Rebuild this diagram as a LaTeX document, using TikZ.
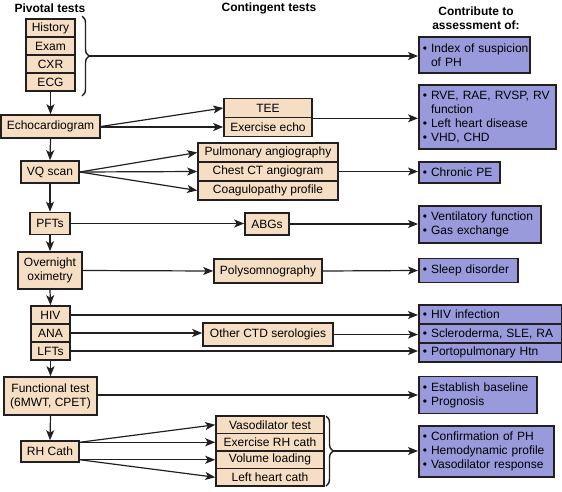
\documentclass[tikz,border=0pt]{standalone}
\usepackage{fontspec}
\setmainfont{Liberation Sans}
\usetikzlibrary{arrows.meta,decorations.pathreplacing,calc}
\definecolor{tanfill}{RGB}{246,222,196}
\definecolor{bluefill}{RGB}{152,154,220}
\definecolor{ink}{RGB}{35,31,32}
\newcommand{\bl}[1]{\mbox{•\ #1}}
\newcommand{\bc}[1]{\mbox{\hphantom{•\ }#1}}
\begin{document}
\begin{tikzpicture}[x=1pt,y=-1pt,font=\fontsize{12}{14}\selectfont,
  tbox/.style={draw=ink,fill=tanfill,line width=1.6pt,inner sep=0pt,align=center},
  bbox/.style={draw=ink,fill=bluefill,line width=1.6pt,inner xsep=4pt,inner ysep=0pt,align=left,anchor=west},
  hdr/.style={font=\bfseries\fontsize{12}{14}\selectfont,align=center},
  arr/.style={draw=ink,line width=1.2pt,-{Stealth[length=10pt,width=8pt,inset=2.5pt]}},
  bracestyle/.style={draw=ink,line width=1.4pt,decorate,decoration={brace,amplitude=7pt}}]
\useasboundingbox (0,0) rectangle (562,491);
% headers
\node[hdr] (h1) at (50,8) {Pivotal tests};
\node[hdr] (h2) at (269,8) {Contingent tests};
\node[hdr] (h3) at (476,18) {Contribute to\\assessment of:};
% pivotal tests
\node[tbox,minimum width=49pt,minimum height=18pt] (hist) at (50.5,28) {History};
\node[tbox,minimum width=49pt,minimum height=18pt] (exam) at (50.5,46) {Exam};
\node[tbox,minimum width=49pt,minimum height=18pt] (cxr) at (50.5,64) {CXR};
\node[tbox,minimum width=49pt,minimum height=18pt] (ecg) at (50.5,82) {ECG};
\node[tbox,minimum width=99pt,minimum height=23pt] (echo) at (50.5,126.5) {Echocardiogram};
\node[tbox,minimum width=58pt,minimum height=22pt] (vq) at (50,172) {VQ scan};
\node[tbox,minimum width=40pt,minimum height=22pt] (pft) at (50,223.5) {PFTs};
\node[tbox,minimum width=64pt,minimum height=37pt] (oxi) at (50,270.5) {Overnight\\oximetry};
\node[tbox,minimum width=39pt,minimum height=18pt] (hiv) at (50.5,315) {HIV};
\node[tbox,minimum width=39pt,minimum height=18pt] (ana) at (50.5,333) {ANA};
\node[tbox,minimum width=39pt,minimum height=18pt] (lft) at (50.5,351) {LFTs};
\node[tbox,minimum width=93pt,minimum height=38pt] (func) at (50.5,396) {Functional test\\(6MWT, CPET)};
\node[tbox,minimum width=58pt,minimum height=21pt] (rh) at (50,451.5) {RH Cath};
% contingent tests
\node[tbox,minimum width=88pt,minimum height=19pt] (tee) at (268,108) {TEE};
\node[tbox,minimum width=88pt,minimum height=19pt] (exe) at (268,127) {Exercise echo};
\node[tbox,minimum width=140pt,minimum height=19pt] (pa) at (268,152.5) {Pulmonary angiography};
\node[tbox,minimum width=140pt,minimum height=19pt] (ct) at (268,171.5) {Chest CT angiogram};
\node[tbox,minimum width=140pt,minimum height=19pt] (coag) at (268,190.5) {Coagulopathy profile};
\node[tbox,minimum width=44pt,minimum height=22pt] (abg) at (267,224) {ABGs};
\node[tbox,minimum width=108pt,minimum height=24pt] (poly) at (268,271) {Polysomnography};
\node[tbox,minimum width=130pt,minimum height=23pt] (ctd) at (268,334.5) {Other CTD serologies};
\node[tbox,minimum width=108pt,minimum height=17.5pt] (vaso) at (270,424.75) {Vasodilator test};
\node[tbox,minimum width=108pt,minimum height=17.5pt] (exrh) at (270,442.25) {Exercise RH cath};
\node[tbox,minimum width=108pt,minimum height=17.5pt] (vol) at (270,459.75) {Volume loading};
\node[tbox,minimum width=108pt,minimum height=17.5pt] (lhc) at (270,477.25) {Left heart cath};
% assessment boxes
\node[bbox,text width=103pt,minimum height=36pt] (idx) at (418,55) {\bl{Index of suspicion}\\\bc{of PH}};
\node[bbox,text width=129pt,minimum height=64pt] (rve) at (418,117) {\bl{RVE, RAE, RVSP, RV}\\\bc{function}\\\bl{Left heart disease}\\\bl{VHD, CHD}};
\node[bbox,text width=73pt,minimum height=21pt] (cpe) at (418,172.5) {\bl{Chronic PE}};
\node[bbox,text width=114pt,minimum height=37pt] (vent) at (418,224.5) {\bl{Ventilatory function}\\\bl{Gas exchange}};
\node[bbox,text width=91pt,minimum height=24pt] (sleep) at (418,270.5) {\bl{Sleep disorder}};
\node[bbox,text width=135pt,minimum height=19pt] (hivi) at (418,314.5) {\bl{HIV infection}};
\node[bbox,text width=135pt,minimum height=19pt] (scl) at (418,333.5) {\bl{Scleroderma, SLE, RA}};
\node[bbox,text width=135pt,minimum height=19pt] (porto) at (418,352.5) {\bl{Portopulmonary Htn}};
\node[bbox,text width=110pt,minimum height=37pt] (est) at (418,395) {\bl{Establish baseline}\\\bl{Prognosis}};
\node[bbox,text width=127pt,minimum height=51pt] (conf) at (418,451.5) {\bl{Confirmation of PH}\\\bl{Hemodynamic profile}\\\bl{Vasodilator response}};
% braces
\coordinate (b1s) at (82,16);
\coordinate (b1e) at (82,96);
\draw[bracestyle] (b1s) -- (b1e);
\coordinate (b1) at (89,56);
\coordinate (b2s) at (326,416);
\coordinate (b2e) at (326,486);
\draw[bracestyle] (b2s) -- (b2e);
\coordinate (b2) at (333,451);
% vertical arrows
\draw[arr] (ecg.south) -- (echo.north);
\draw[arr] (echo.south) -- (vq.north);
\draw[arr] (vq.south) -- (pft.north);
\draw[arr] (pft.south) -- (oxi.north);
\draw[arr] (oxi.south) -- (hiv.north);
\draw[arr] (lft.south) -- (func.north);
\draw[arr] (func.south) -- (rh.north);
% horizontal connectors
\draw[arr] (b1) -- (b1 -| idx.west);
\draw[arr] (echo.east) -- (tee.west);
\draw[arr] (echo.east |- exe.west) -- (exe.west);
\draw[arr] (tee.south east) -- (tee.south east -| rve.west);
\draw[arr] (vq.east) -- (pa.west);
\draw[arr] (vq.east) -- (ct.west);
\draw[arr] (vq.east) -- (coag.west);
\draw[arr] (ct.east) -- (ct.east -| cpe.west);
\draw[arr] (pft.east) -- (pft.east -| abg.west);
\draw[arr] (abg.east) -- (abg.east -| vent.west);
\draw[arr] (oxi.east) -- (poly.west);
\draw[arr] (poly.east) -- (sleep.west);
\draw[arr] (hiv.east) -- (hiv.east -| hivi.west);
\draw[arr] (ana.east) -- (ana.east -| ctd.west);
\draw[arr] (ctd.east) -- (ctd.east -| scl.west);
\draw[arr] (lft.east) -- (lft.east -| porto.west);
\draw[arr] (est.west -| func.east) -- (est.west);
\coordinate (rhu) at (rh.east |- exrh.west);
\coordinate (rhl) at (rh.east |- vol.west);
\draw[arr] (rhu) -- (vaso.west);
\draw[arr] (rhu) -- (exrh.west);
\draw[arr] (rhl) -- (vol.west);
\draw[arr] (rhl) -- (lhc.west);
\draw[arr] (b2) -- (b2 -| conf.west);
\end{tikzpicture}
\end{document}
